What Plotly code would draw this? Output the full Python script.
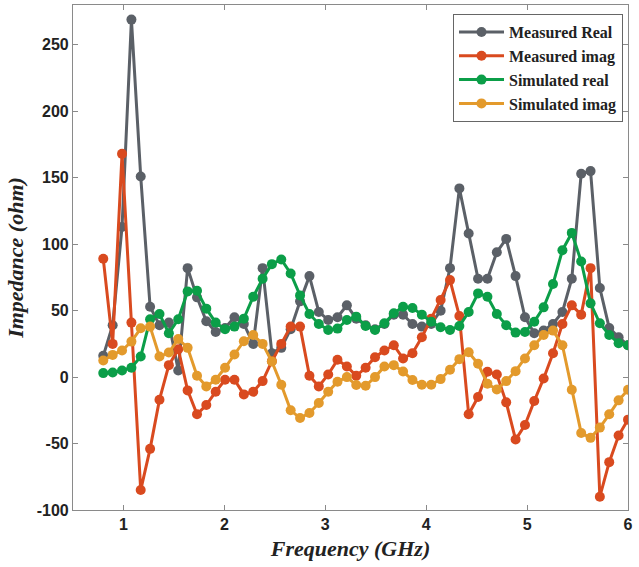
import plotly.graph_objects as go

freq = [0.800, 0.893, 0.986, 1.079, 1.171, 1.264, 1.357, 1.450, 1.543, 1.636,
        1.729, 1.821, 1.914, 2.007, 2.100, 2.193, 2.286, 2.379, 2.471, 2.564,
        2.657, 2.750, 2.843, 2.936, 3.029, 3.121, 3.214, 3.307, 3.400, 3.493,
        3.586, 3.679, 3.771, 3.864, 3.957, 4.050, 4.143, 4.236, 4.329, 4.421,
        4.514, 4.607, 4.700, 4.793, 4.886, 4.979, 5.071, 5.164, 5.257, 5.350,
        5.443, 5.536, 5.629, 5.721, 5.814, 5.907, 6.000]

measured_real = [16, 39, 113, 269, 151, 53, 39, 41, 5, 82,
                 60, 42, 34, 37, 45, 40, 25, 82, 18, 22,
                 36, 57, 76, 49, 43, 45, 54, 44, 39, 36,
                 40, 47, 47, 40, 38, 40, 50, 82, 142, 108,
                 74, 74, 94, 104, 76, 45, 33, 35, 40, 49,
                 74, 153, 155, 67, 37, 30, 24]

measured_imag = [89, 25, 168, 41, -85, -54, -17, 9, 21, -10,
                 -28, -21, -11, -2, -2, -13, -11, -3, 12, 25,
                 38, 38, 1, -7, 2, 13, 8, 1, 7, 15,
                 20, 24, 14, 18, 30, 44, 58, 73, 46, -28,
                 -15, 4, 2, -19, -47, -36, -18, -1, 18, 40,
                 54, 47, 82, -90, -64, -44, -32]

simulated_real = [3, 3.5, 5, 7, 15.5, 43.5, 47.5, 33, 43.5, 64.5,
                  65, 51.5, 41, 36, 38, 44, 60.5, 74, 85, 88.5,
                  78, 61.5, 47.5, 40, 35.5, 36.5, 43, 45.5, 38.5, 35.5,
                  40.5, 48, 53, 52, 47, 41.7, 37.5, 35.5, 38.5, 49,
                  63, 60.5, 47.5, 39, 33.5, 34, 41.7, 52.5, 70, 95.5,
                  108.5, 87, 55.5, 40.5, 31.7, 25.5, 24]

simulated_imag = [12.5, 16.7, 20, 26.7, 36.7, 38, 15.5, 18.5, 28.7, 22,
                  1, -7, -2, 7, 17, 27, 31.7, 25, 11.7, -5.8,
                  -25, -30.8, -27, -19.5, -11, -3.5, 0, -6, -6.5, 0,
                  8, 9, 4.2, -2.2, -5.8, -5.8, -1.5, 5.5, 13.5, 18.7,
                  10, -5, -9.3, -3, 4.5, 14, 24, 31.7, 35, 24,
                  -9.5, -42, -45.7, -38, -28, -17.5, -9.5]

series = [
    ("Measured Real", measured_real, "#5b6067"),
    ("Measured imag", measured_imag, "#d94a1f"),
    ("Simulated real", simulated_real, "#0b9e48"),
    ("Simulated imag", simulated_imag, "#e39a2c"),
]

x_ticks = [1, 2, 3, 4, 5, 6]
y_ticks = [-100, -50, 0, 50, 100, 150, 200, 250]
y_tick_labels = ["-100", "-50", "0", "50", "100", "150", "200", "250"]

fig = go.Figure()
for name, vals, col in series:
    fig.add_trace(go.Scatter(
        x=freq, y=vals, name=name, mode="lines+markers",
        line=dict(color=col, width=3),
        marker=dict(color=col, size=10),
    ))

axis_common = dict(
    showline=True, linecolor="#8a8a8a", linewidth=1.2, mirror="ticks",
    ticks="inside", ticklen=5, tickcolor="#8a8a8a",
    showgrid=False, zeroline=False,
    tickfont=dict(family="Liberation Sans", size=16, color="#222", weight="bold"),
)

fig.update_layout(
    width=639, height=567,
    margin=dict(l=73, r=11, t=5, b=57),
    paper_bgcolor="white", plot_bgcolor="white",
    xaxis=dict(range=[0.5, 6], tickvals=x_ticks,
               title=dict(text="Frequency (GHz)", standoff=8,
                          font=dict(family="Liberation Serif", size=22, color="#222",
                                    weight="bold", style="italic")),
               **axis_common),
    yaxis=dict(range=[-100, 280], tickvals=y_ticks, ticktext=y_tick_labels,
               title=dict(text="Impedance (ohm)", standoff=6,
                          font=dict(family="Liberation Serif", size=22, color="#222",
                                    weight="bold", style="italic")),
               **axis_common),
    legend=dict(x=0.991, y=0.982, xanchor="right", yanchor="top",
                bgcolor="white", bordercolor="#666", borderwidth=1,
                itemwidth=45, tracegroupgap=0,
                font=dict(family="Liberation Serif", size=16, color="#222", weight="bold")),
    showlegend=True,
)

fig.write_html("out.html")
